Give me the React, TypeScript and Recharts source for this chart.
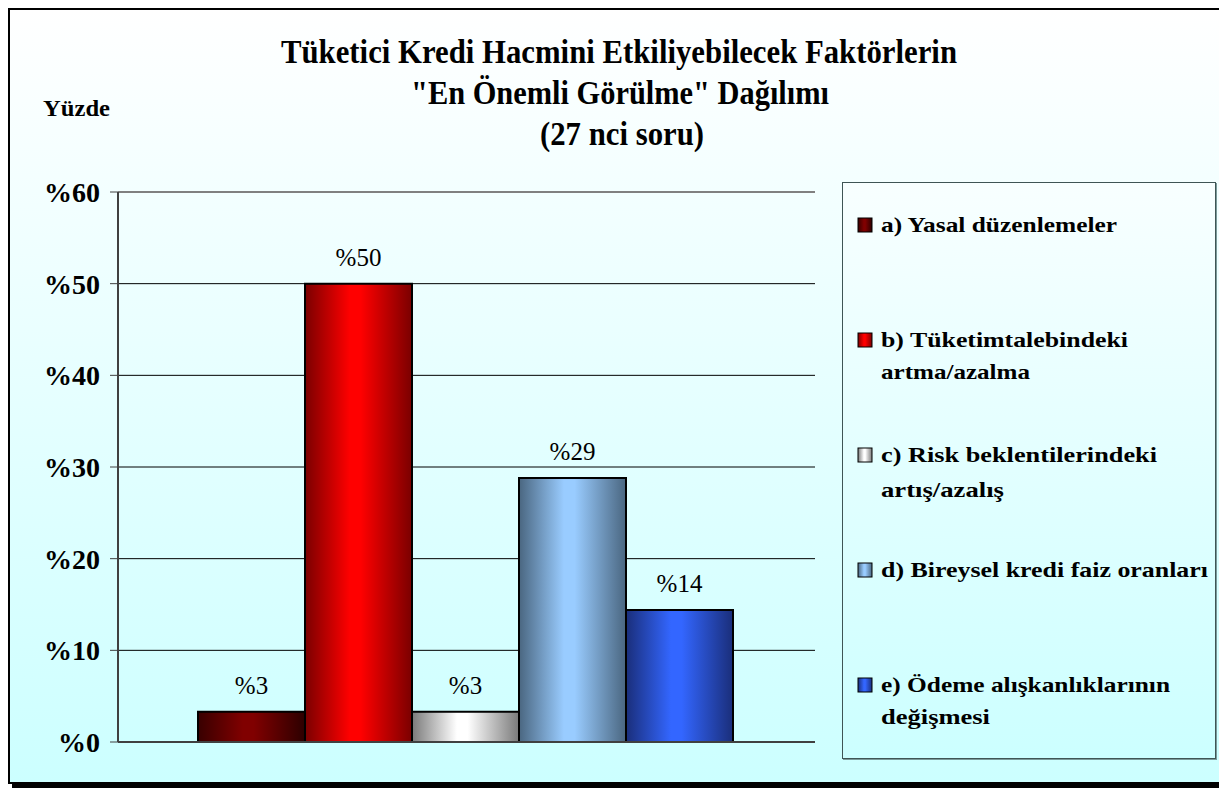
import React from 'react';
import { BarChart, Bar, XAxis, YAxis, CartesianGrid, ReferenceLine, LabelList } from 'recharts';

const seriesKeys = ['a', 'b', 'c', 'd', 'e'];
const seriesNames = [
  'a) Yasal düzenlemeler',
  'b) Tüketim talebindeki artma/azalma',
  'c) Risk beklentilerindeki artış/azalış',
  'd) Bireysel kredi faiz oranları',
  'e) Ödeme alışkanlıklarının değişmesi',
];
const seriesValues = [3.3, 50, 3.3, 28.8, 14.4];
const valueLabels = ['%3', '%50', '%3', '%29', '%14'];
const yTicks = [0, 10, 20, 30, 40, 50, 60];

const legendLines = [
  ['a) Yasal düzenlemeler'],
  ['b) Tüketimtalebindeki', 'artma/azalma'],
  ['c) Risk beklentilerindeki', 'artış/azalış'],
  ['d) Bireysel kredi faiz oranları'],
  ['e) Ödeme alışkanlıklarının', 'değişmesi'],
];
const legendLineWidths = [[236], [247, 149], [276, 123], [327], [289, 109]];
const legendCenters = [[43], [158, 190], [273, 308], [388], [503, 535]];

const gradientColors = [
  ['#380000', '#800000', '#2c0000'],
  ['#7a0000', '#ff0000', '#7a0000'],
  ['#7a7a7a', '#ffffff', '#7a7a7a'],
  ['#4a6680', '#99ccff', '#4a6680'],
  ['#1a2e7a', '#3366ff', '#1a2e7a'],
];

const chartRow: Record<string, number | string> = { name: 'Yüzde' };
seriesKeys.forEach((k, i) => {
  chartRow[k] = seriesValues[i];
});
const chartData = [chartRow];

const serif = '"Liberation Serif", "Times New Roman", serif';

const Gradients = ({ prefix }: { prefix: string }) => (
  <defs>
    {gradientColors.map((c, i) => (
      <linearGradient key={i} id={`${prefix}${i}`} x1="0" y1="0" x2="1" y2="0">
        <stop offset="0%" stopColor={c[0]} />
        <stop offset="42%" stopColor={c[1]} />
        <stop offset="52%" stopColor={c[1]} />
        <stop offset="100%" stopColor={c[2]} />
      </linearGradient>
    ))}
  </defs>
);

const Legend = () => (
  <div
    style={{
      position: 'absolute',
      left: 832,
      top: 172,
      width: 374,
      height: 577,
      boxSizing: 'border-box',
      border: '1px solid #3f5555',
      boxShadow: '1px 1px 0 #7a9a9a',
      background: 'linear-gradient(to bottom, #f8ffff, #ccffff)',
    }}
  >
    <svg width={372} height={575} style={{ display: 'block' }}>
      <Gradients prefix="lg" />
      {legendLines.map((lines, i) => (
        <g key={i}>
          <rect
            x={15}
            y={legendCenters[i][0] - 7 - 1}
            width={14}
            height={14}
            fill={`url(#lg${i})`}
            stroke="#000"
            strokeWidth={1}
          />
          {lines.map((t, j) => (
            <text
              key={j}
              x={38}
              y={legendCenters[i][j] - 1 + 7}
              fontFamily={serif}
              fontWeight="bold"
              fontSize={22}
              fill="#000"
              textLength={legendLineWidths[i][j]}
              lengthAdjust="spacingAndGlyphs"
            >
              {t}
            </text>
          ))}
        </g>
      ))}
    </svg>
  </div>
);

const Titles = () => (
  <svg
    width={1210}
    height={170}
    style={{ position: 'absolute', left: 0, top: 0, pointerEvents: 'none' }}
  >
    <text x={609} y={53} textAnchor="middle" fontFamily={serif} fontWeight="bold" fontSize={34}
      textLength={676} lengthAdjust="spacingAndGlyphs">
      Tüketici Kredi Hacmini Etkiliyebilecek Faktörlerin
    </text>
    <text x={610} y={94} textAnchor="middle" fontFamily={serif} fontWeight="bold" fontSize={34}
      textLength={418} lengthAdjust="spacingAndGlyphs">
      "En Önemli Görülme" Dağılımı
    </text>
    <text x={612} y={135} textAnchor="middle" fontFamily={serif} fontWeight="bold" fontSize={34}
      textLength={164} lengthAdjust="spacingAndGlyphs">
      (27 nci soru)
    </text>
    <text x={33} y={106} fontFamily={serif} fontWeight="bold" fontSize={24}
      textLength={67} lengthAdjust="spacingAndGlyphs">
      Yüzde
    </text>
  </svg>
);

export default function App() {
  return (
    <div style={{ position: 'relative', width: 1219, height: 781 }}>
      <div
        style={{
          position: 'absolute',
          left: 0,
          top: 0,
          width: 1214,
          height: 776,
          boxSizing: 'border-box',
          border: '2px solid #000',
          boxShadow: '4px 4px 0 #000',
          background: 'linear-gradient(to bottom, #ffffff, #ccffff)',
        }}
      >
        <div style={{ position: 'relative', width: 1210, height: 772 }}>
          <BarChart
            width={1210}
            height={772}
            data={chartData}
            margin={{ top: 182, right: 405, bottom: 40, left: 0 }}
            barGap={0}
            barCategoryGap={80}
          >
            <Gradients prefix="bg" />
            <CartesianGrid horizontal vertical={false} stroke="#000" strokeWidth={1} />
            <XAxis dataKey="name" hide />
            <YAxis
              domain={[0, 60]}
              ticks={yTicks}
              width={108}
              tickSize={8}
              tickMargin={10}
              axisLine={{ stroke: '#404040', strokeWidth: 2 }}
              tickLine={{ stroke: '#404040', strokeWidth: 1 }}
              tick={{ fill: '#000', fontFamily: serif, fontWeight: 'bold', fontSize: 28 }}
              tickFormatter={(v: number) => `%${v}`}
            />
            <YAxis
              yAxisId="right"
              orientation="right"
              domain={[0, 60]}
              width={0}
              tick={false}
              tickLine={false}
              axisLine={{ stroke: '#808080', strokeWidth: 2 }}
            />
            <ReferenceLine y={60} stroke="#808080" strokeWidth={2} />
            <ReferenceLine y={0} stroke="#404040" strokeWidth={2} />
            {seriesKeys.map((k, i) => (
              <Bar
                key={k}
                dataKey={k}
                name={seriesNames[i]}
                fill={`url(#bg${i})`}
                stroke="#000"
                strokeWidth={2}
                isAnimationActive={false}
              >
                <LabelList
                  dataKey={k}
                  position="top"
                  offset={18}
                  formatter={() => valueLabels[i]}
                  fill="#000"
                  fontFamily={serif}
                  fontSize={25}
                />
              </Bar>
            ))}
          </BarChart>
          <Titles />
          <Legend />
        </div>
      </div>
    </div>
  );
}
